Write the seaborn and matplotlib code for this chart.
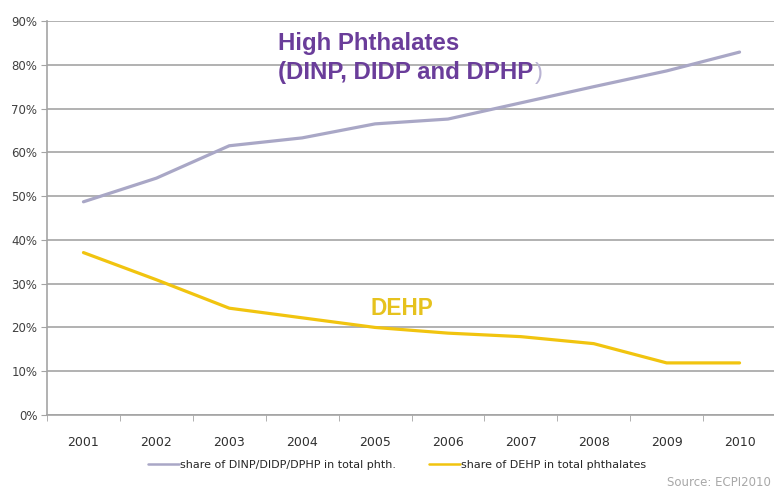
import numpy as np
import matplotlib
matplotlib.use("Agg")
import matplotlib.pyplot as plt
import seaborn as sns
import pandas as pd
from matplotlib.ticker import FuncFormatter

years = ["2001", "2002", "2003", "2004", "2005", "2006", "2007", "2008", "2009", "2010"]
high_share = [48.7, 54.1, 61.5, 63.3, 66.5, 67.6, 71.3, 75.0, 78.6, 82.9]
dehp_share = [37.1, 30.9, 24.4, 22.2, 20.0, 18.7, 17.9, 16.3, 11.9, 11.9]
series_names = ["share of DINP/DIDP/DPHP in total phth.", "share of DEHP in total phthalates"]
y_ticks = [0, 10, 20, 30, 40, 50, 60, 70, 80, 90]

df = pd.DataFrame({
    "pos": list(range(len(years))) * 2,
    "share": np.array(high_share + dehp_share) / 100,
    "series": [series_names[0]] * len(years) + [series_names[1]] * len(years),
})

sns.set_style("white")
plt.rcParams['font.family'] = ['DejaVu Sans']

fig = plt.figure(figsize=(7.74, 4.88), dpi=100)
ax = fig.add_axes([47 / 774, 1 - 415 / 488, 729 / 774, 394 / 488])

sns.lineplot(data=df, x="pos", y="share", hue="series", hue_order=series_names,
             palette=["#A9A7C6", "#F1C40F"], linewidth=2.3, ax=ax)

ax.set_xlim(-0.5, 9.5)
ax.set_ylim(0, 0.9)
ax.set_xticks(range(len(years)))
ax.set_xticklabels(years)
ax.set_xticks(np.arange(-0.5, 10, 1), minor=True)
ax.set_yticks([v / 100 for v in y_ticks])
ax.yaxis.set_major_formatter(FuncFormatter(lambda v, p: f"{v * 100:.0f}%"))
ax.grid(axis="y", color="#A4A4A4", linewidth=1.2)
ax.grid(axis="x", visible=False)
ax.set_xlabel("")
ax.set_ylabel("")

for s in ["top", "right"]:
    ax.spines[s].set_visible(False)
for s in ["left", "bottom"]:
    ax.spines[s].set_color("#A4A4A4")
    ax.spines[s].set_linewidth(1.2)

ax.tick_params(axis="y", which="major", left=True, length=4, color="#A4A4A4",
               labelsize=8.5, labelcolor="#404040", pad=3)
ax.tick_params(axis="x", which="major", bottom=False, length=0, labelsize=9,
               labelcolor="#303030", pad=15)
ax.tick_params(axis="x", which="minor", bottom=True, length=4, color="#A4A4A4")

sns.move_legend(ax, "center", bbox_to_anchor=(0.513, 0.047), bbox_transform=fig.transFigure,
                ncol=2, frameon=False, title=None, fontsize=8, handlelength=2.8,
                handletextpad=0.1, columnspacing=2.9)
for h in ax.get_legend().get_lines():
    h.set_linewidth(1.8)

fig.text(278 / 774, 1 - 50 / 488, "High Phthalates", family="Liberation Sans",
         fontweight="bold", fontsize=17.3, color="#6A3D9A", va="baseline")
t2 = fig.text(278 / 774, 1 - 79 / 488, "(DINP, DIDP and DPHP", family="Liberation Sans",
              fontweight="bold", fontsize=17.3, color="#6A3D9A", va="baseline")
ax.annotate(")", xy=(1, 0), xycoords=t2, xytext=(1, 0), textcoords="offset points",
            family="Liberation Sans", fontsize=17.3, color="#B9B3D3", va="bottom")

fig.text(370 / 774, 1 - 315 / 488, "DEHP", family="Liberation Sans", fontweight="bold",
         fontsize=16.3, color="#E6C21E", va="baseline")

# source note kept fully inside the canvas
fig.text(771 / 774, 1 - 483 / 488, "Source: ECPI2010", fontsize=8.5, color="#A8A8A8",
         va="center", ha="right")

fig.savefig("out.png", dpi=100)
